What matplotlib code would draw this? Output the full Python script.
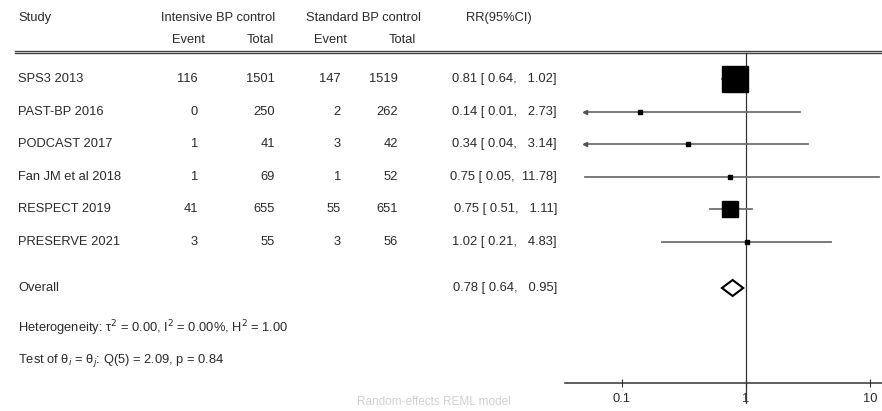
import numpy as np
import matplotlib
matplotlib.use("Agg")
import matplotlib.pyplot as plt

plt.rcParams['font.family'] = ['Liberation Sans', 'DejaVu Sans']

# study data
studies = ["SPS3 2013", "PAST-BP 2016", "PODCAST 2017", "Fan JM et al 2018",
           "RESPECT 2019", "PRESERVE 2021"]
int_events = [116, 0, 1, 1, 41, 3]
int_total = [1501, 250, 41, 69, 655, 55]
std_events = [147, 2, 3, 1, 55, 3]
std_total = [1519, 262, 42, 52, 651, 56]
rr = [0.81, 0.14, 0.34, 0.75, 0.75, 1.02]
rr_lo = [0.64, 0.01, 0.04, 0.05, 0.51, 0.21]
rr_hi = [1.02, 2.73, 3.14, 11.78, 1.11, 4.83]
weights = [71.5, 0.4, 0.8, 0.5, 25.2, 1.6]

overall = (0.78, 0.64, 0.95)
het_text = "Heterogeneity: τ$^2$ = 0.00, I$^2$ = 0.00%, H$^2$ = 1.00"
test_text = "Test of θ$_i$ = θ$_j$: Q(5) = 2.09, p = 0.84"

xticks = [0.1, 1, 10]
xlim = (0.0347, 12.5)
clip_lo = 0.05

W, H = 882, 411
fig = plt.figure(figsize=(W / 100, H / 100), dpi=100)

# text layer in pixel coordinates
tx = fig.add_axes([0, 0, 1, 1])
tx.set_xlim(0, W)
tx.set_ylim(H, 0)
tx.axis('off')

fs = 9.3
col = '#2a2a2a'
row0, dy = 79, 32.6
row_y = [row0 + i * dy for i in range(len(studies))]
y_over = 288

# headers
tx.text(18, 18, "Study", fontsize=fs, color=col, va='center')
tx.text(218, 18, "Intensive BP control", fontsize=fs, color=col, va='center', ha='center')
tx.text(363, 18, "Standard BP control", fontsize=fs, color=col, va='center', ha='center')
tx.text(499, 18, "RR(95%CI)", fontsize=fs, color=col, va='center', ha='center')
for x, s in [(188, "Event"), (260, "Total"), (330, "Event"), (402, "Total")]:
    tx.text(x, 40, s, fontsize=fs, color=col, va='center', ha='center')

tx.plot([15, W], [51, 51], color='#444444', lw=1.0)
tx.plot([15, W], [53.5, 53.5], color='#444444', lw=1.0)

for i, y in enumerate(row_y):
    tx.text(18, y, studies[i], fontsize=fs, color=col, va='center')
    tx.text(198, y, str(int_events[i]), fontsize=fs, color=col, va='center', ha='right')
    tx.text(275, y, str(int_total[i]), fontsize=fs, color=col, va='center', ha='right')
    tx.text(341, y, str(std_events[i]), fontsize=fs, color=col, va='center', ha='right')
    tx.text(398, y, str(std_total[i]), fontsize=fs, color=col, va='center', ha='right')
    tx.text(557, y, "%.2f [ %.2f, %6.2f]" % (rr[i], rr_lo[i], rr_hi[i]),
            fontsize=fs, color=col, va='center', ha='right')

tx.text(18, y_over, "Overall", fontsize=fs, color=col, va='center')
tx.text(557, y_over, "%.2f [ %.2f, %6.2f]" % overall,
        fontsize=fs, color=col, va='center', ha='right')
tx.text(18, 328, het_text, fontsize=fs, color=col, va='center')
tx.text(18, 360, test_text, fontsize=fs, color=col, va='center')
tx.text(434, 402, "Random-effects REML model", fontsize=8.5, color='#d0d0d0',
        va='center', ha='center')

# forest panel, y in the same pixel units
ax_top, ax_bot = 53, 383
fx = fig.add_axes([565 / W, (H - ax_bot) / H, 1 - 565 / W, (ax_bot - ax_top) / H])
fx.set_xscale('log')
fx.set_xlim(*xlim)
fx.set_ylim(ax_bot, ax_top)
fx.patch.set_alpha(0)
for s in ['top', 'right', 'left']:
    fx.spines[s].set_visible(False)
fx.spines['bottom'].set_color('#333333')
fx.spines['bottom'].set_linewidth(1.1)
fx.set_yticks([])
fx.set_xticks(xticks)
fx.set_xticklabels(["0.1", "1", "10"], fontsize=fs, color=col)
fx.xaxis.set_minor_locator(matplotlib.ticker.NullLocator())
fx.tick_params(axis='x', direction='inout', length=6, color='#333333', pad=4)

fx.plot([1, 1], [ax_top, 403], color='#333333', lw=0.9, clip_on=False)

for i, y in enumerate(row_y):
    lo = max(rr_lo[i], clip_lo)
    hi = min(rr_hi[i], xlim[1])
    fx.plot([lo, hi], [y, y], color='#707070', lw=1.3, clip_on=False)
    if rr_lo[i] < clip_lo:
        fx.plot(lo, y, marker='<', ms=3, color='#555555', clip_on=False)
    ms = max(3.5, 2.25 * np.sqrt(weights[i]))
    fx.plot(rr[i], y, marker='s', ms=ms, color='black', mec='black', clip_on=False)

# overall diamond
est, lo, hi = overall
fx.fill([lo, est, hi, est, lo], [y_over, y_over - 8, y_over, y_over + 8, y_over],
        facecolor='white', edgecolor='black', lw=1.5)

fig.savefig("out.png", dpi=100)
